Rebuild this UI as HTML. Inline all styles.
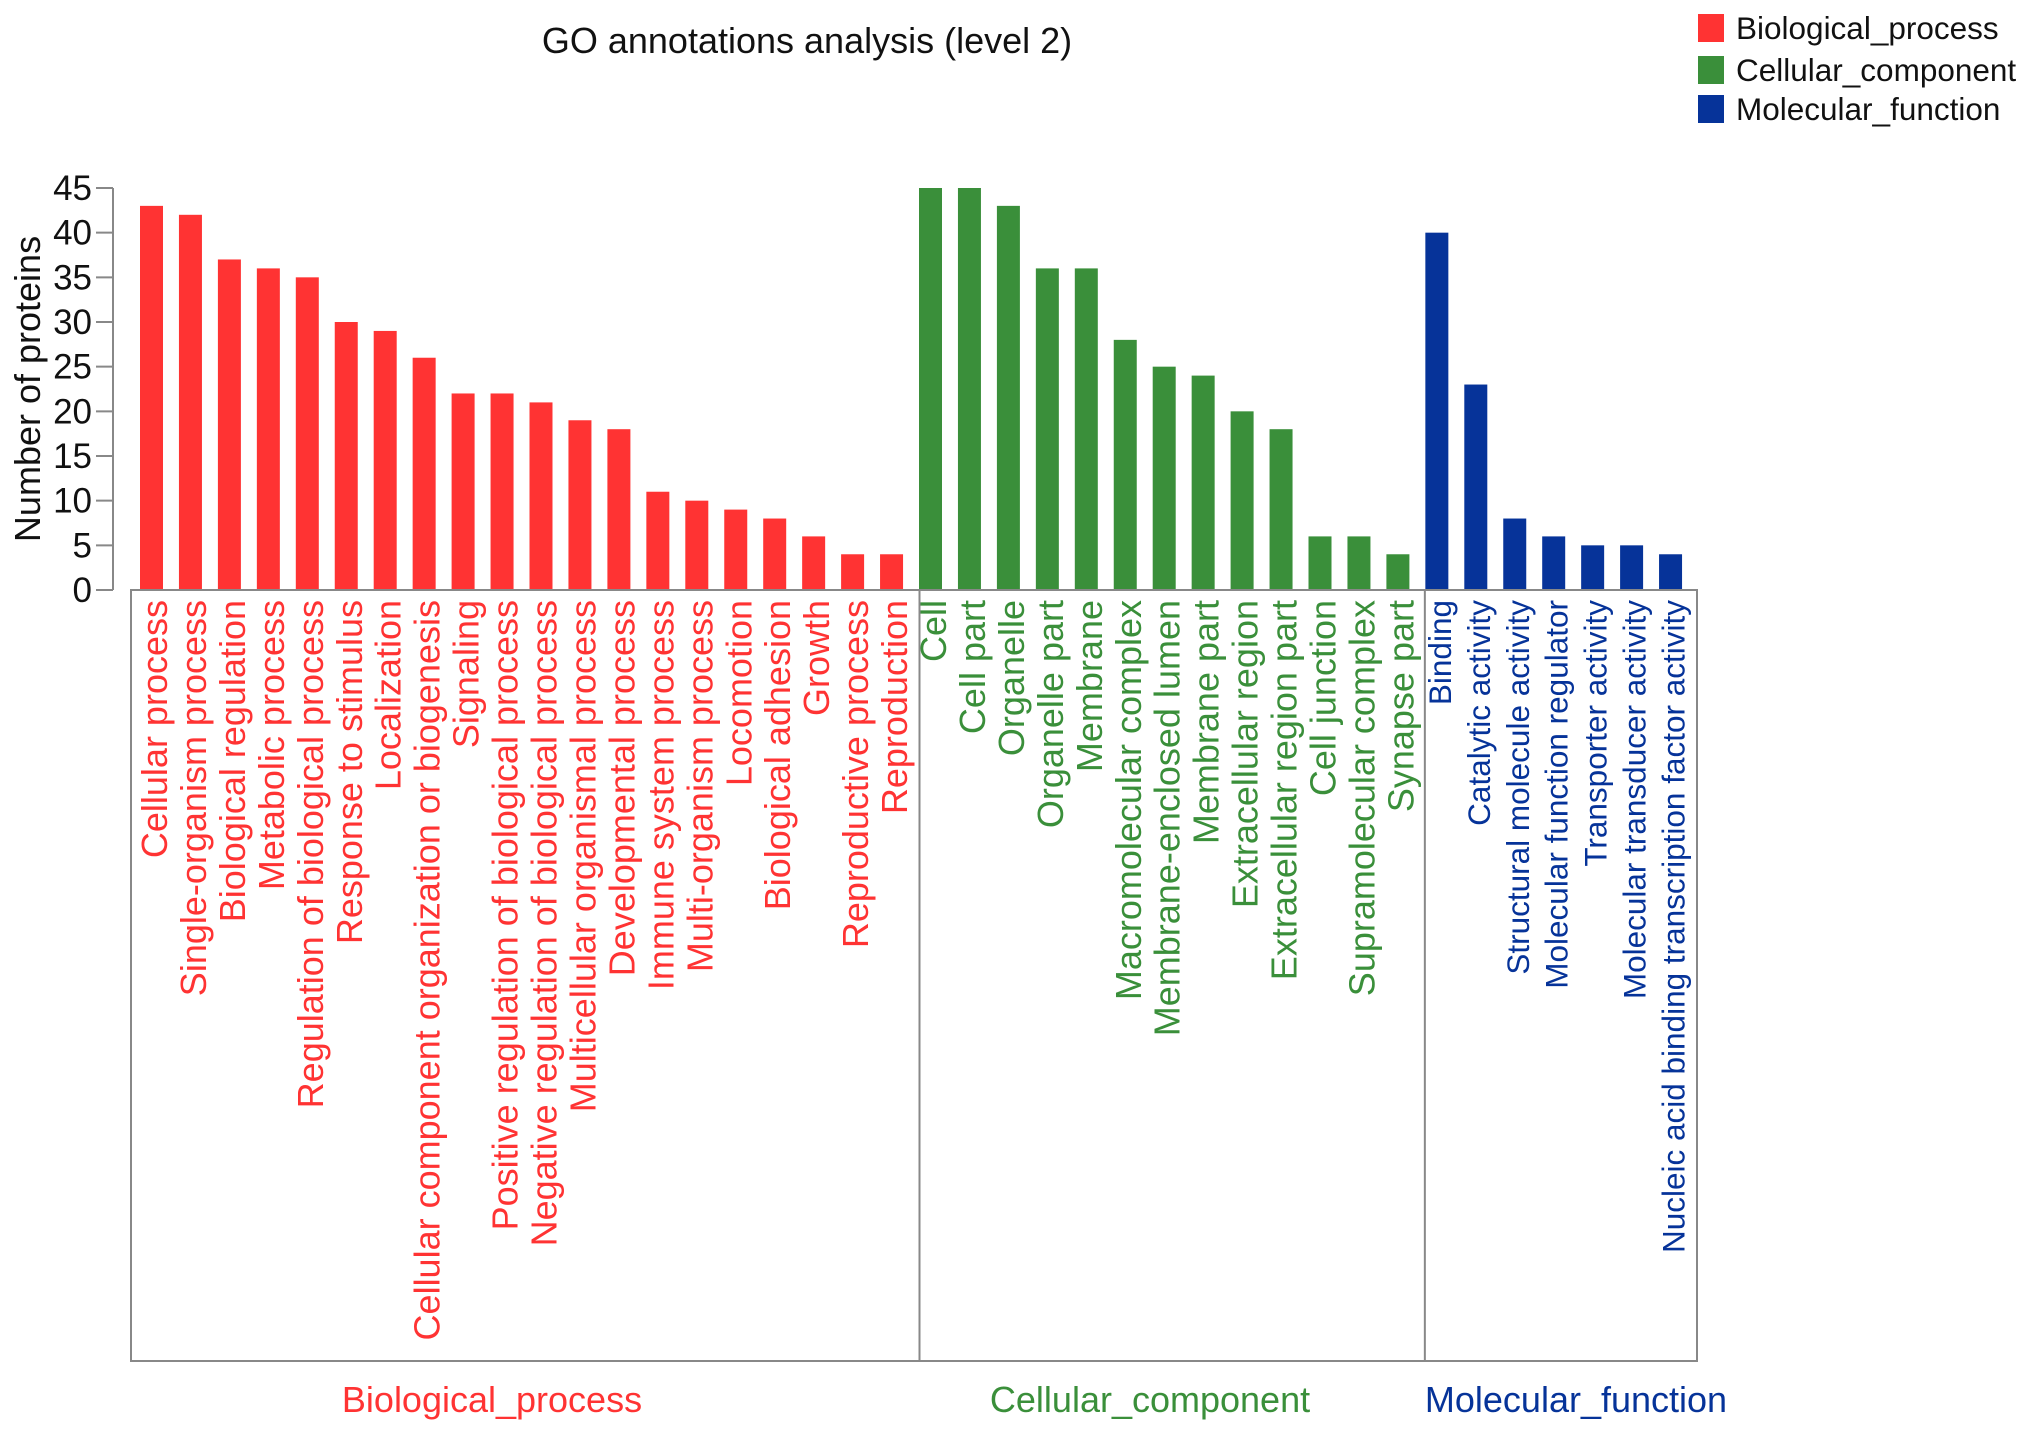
<!DOCTYPE html>
<html><head><meta charset="utf-8"><style>
body{margin:0;background:#fff;}
svg{display:block;font-family:"Liberation Sans",Arial,sans-serif;}
</style></head><body>
<svg id="chart" width="2031" height="1433" viewBox="0 0 2031 1433">
<text x="807" y="53" font-size="36" text-anchor="middle" fill="#111">GO annotations analysis (level 2)</text>
<g id="legend"></g>
<g id="yaxis"></g>
<text transform="translate(40,389) rotate(-90)" font-size="36" text-anchor="middle" fill="#111">Number of proteins</text>
<g id="bars"></g>
<g id="labels"></g>
<g id="frame"></g>
</svg>
<script>
const bpCats=["Cellular process","Single-organism process","Biological regulation","Metabolic process","Regulation of biological process","Response to stimulus","Localization","Cellular component organization or biogenesis","Signaling","Positive regulation of biological process","Negative regulation of biological process","Multicellular organismal process","Developmental process","Immune system process","Multi-organism process","Locomotion","Biological adhesion","Growth","Reproductive process","Reproduction"];
const bpVals=[43,42,37,36,35,30,29,26,22,22,21,19,18,11,10,9,8,6,4,4];
const ccCats=["Cell","Cell part","Organelle","Organelle part","Membrane","Macromolecular complex","Membrane-enclosed lumen","Membrane part","Extracellular region","Extracellular region part","Cell junction","Supramolecular complex","Synapse part"];
const ccVals=[45,45,43,36,36,28,25,24,20,18,6,6,4];
const mfCats=["Binding","Catalytic activity","Structural molecule activity","Molecular function regulator","Transporter activity","Molecular transducer activity","Nucleic acid binding transcription factor activity"];
const mfVals=[40,23,8,6,5,5,4];
const groupNames=["Biological_process","Cellular_component","Molecular_function"];
const yTicks=[0,5,10,15,20,25,30,35,40,45];

const NS="http://www.w3.org/2000/svg";
const colors=["#ff3333","#3a8f3a","#063399"];
const labelSizes=[36,36,31.5];
const y0=590,yTop=188,yMax=45;
const yS=v=>y0-(v/yMax)*(y0-yTop);
const firstX=140,step=38.95,bw=23;
const xS=i=>firstX+i*step;
function mk(tag,attrs,parent){const e=document.createElementNS(NS,tag);for(const k in attrs)e.setAttribute(k,attrs[k]);parent.appendChild(e);return e;}

const yax=document.getElementById('yaxis');
const yl=mk('line',{x1:113,x2:113,y1:yS(yMax),y2:y0,stroke:'#888','stroke-width':2},yax);


yTicks.forEach(t=>{
  const tk=mk('line',{x1:96,x2:113,y1:yS(t),y2:yS(t),stroke:'#888','stroke-width':2},yax);
  
  
  const tx=mk('text',{x:92,y:yS(t)+12,'font-size':35,'text-anchor':'end',fill:'#111'},yax);
  tx.textContent=t;
  
  
});

const groups=[[bpCats,bpVals],[ccCats,ccVals],[mfCats,mfVals]];
const bars=document.getElementById('bars'),labels=document.getElementById('labels'),frame=document.getElementById('frame');
let idx=0;const starts=[];
groups.forEach((g,gi)=>{
  starts.push(idx);
  g[1].forEach((v,j)=>{
    const x=xS(idx);
    const r=mk('rect',{x:x,y:yS(v),width:bw,height:y0-yS(v),fill:colors[gi]},bars);
    
    
    const cx=x+bw/2+3;
    const t=mk('text',{transform:`translate(${cx},600) rotate(-90)`,'font-size':labelSizes[gi],'text-anchor':'end','dominant-baseline':'central',fill:colors[gi]},labels);
    t.textContent=g[0][j];
    
    
    idx++;
  });
});
const boxL=131,boxR=1697,boxT=590,boxB=1361;
const box=mk('rect',{x:boxL,y:boxT,width:boxR-boxL,height:boxB-boxT,fill:'none',stroke:'#888','stroke-width':2},frame);


const bounds=[boxL,xS(starts[1])+0.5,xS(starts[2])-0.5,boxR];
[1,2].forEach(k=>{
  const d=mk('line',{x1:bounds[k],x2:bounds[k],y1:boxT,y2:boxB,stroke:'#888','stroke-width':2},frame);
  
  
});
const gCenters=[492,1150,1576];
groupNames.forEach((n,k)=>{
  const t=mk('text',{x:gCenters[k],y:1412,'font-size':36,'text-anchor':'middle',fill:colors[k]},frame);
  t.textContent=n;
  
  
});
const lg=document.getElementById('legend');
groupNames.forEach((n,k)=>{
  const cy=[28,70,109][k];
  const r=mk('rect',{x:1698,y:cy-14,width:26,height:28,fill:colors[k]},lg);
  
  
  const t=mk('text',{x:1736,y:cy+11,'font-size':31.5,fill:'#111'},lg);
  t.textContent=n;
  
  
});
</script>
</body></html>
